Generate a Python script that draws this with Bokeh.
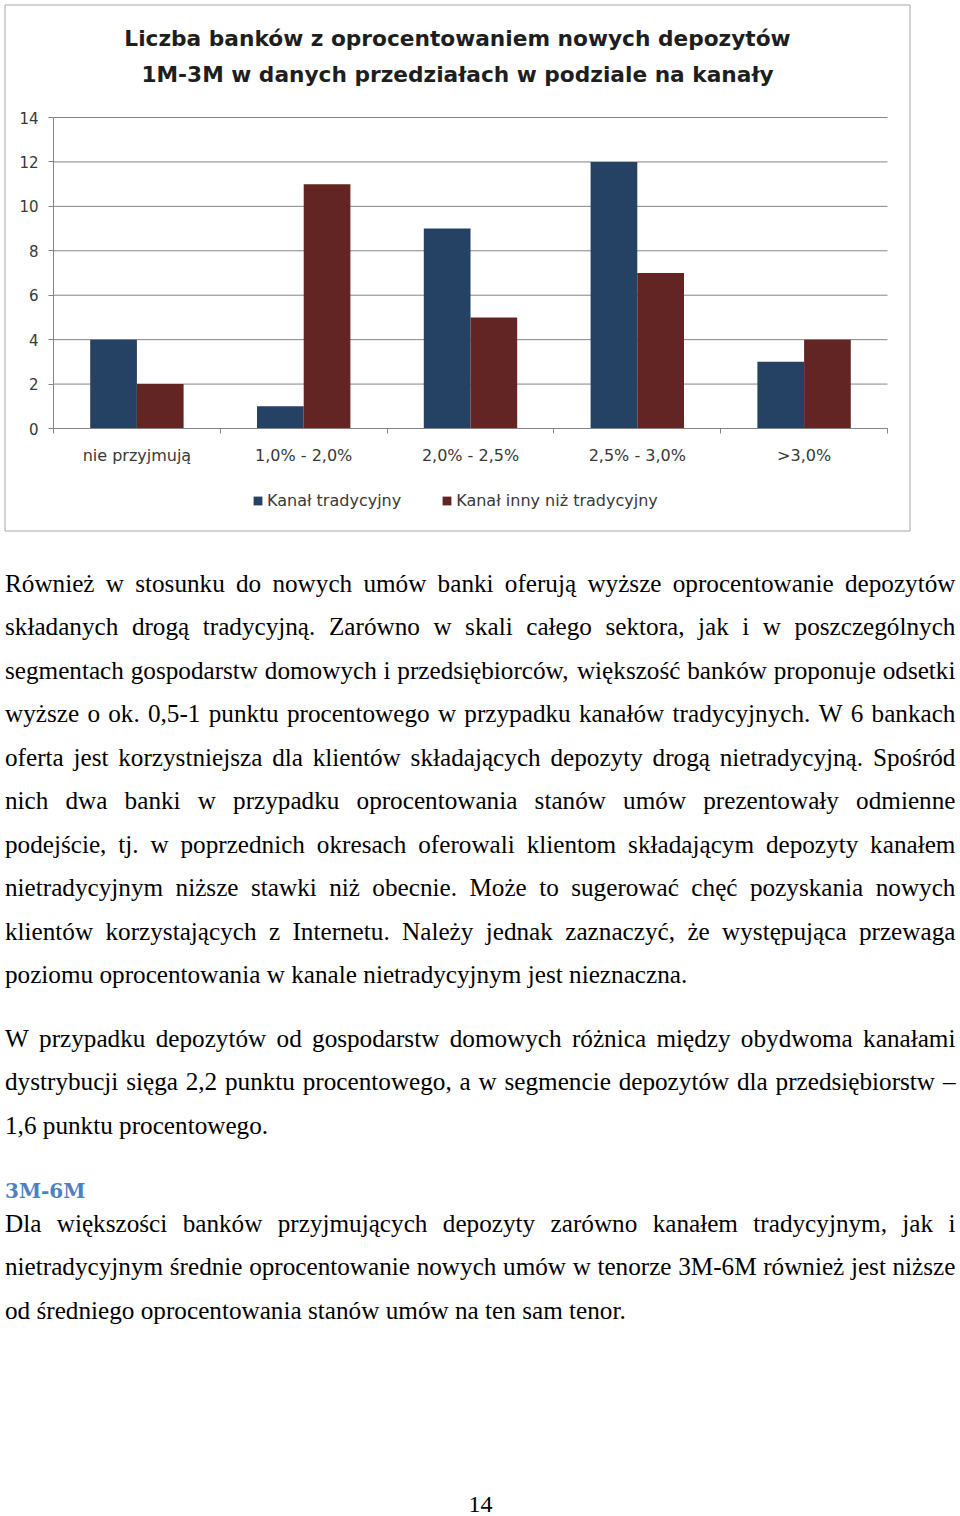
from bokeh.plotting import figure
from bokeh.models import (Range1d, FixedTicker, Legend, LegendItem, LinearAxis,
                          ColumnDataSource)
from bokeh.transform import dodge
from bokeh.embed import file_html
from bokeh.resources import INLINE
from bokeh.core.properties import value

# ---------------- data ----------------
categories = ["nie przyjmują", "1,0% - 2,0%", "2,0% - 2,5%", "2,5% - 3,0%", ">3,0%"]
traditional = [4, 1, 9, 12, 3]
other = [2, 11, 5, 7, 4]
y_ticks = [0, 2, 4, 6, 8, 10, 12, 14]
series_names = ["Kanał tradycyjny", "Kanał inny niż tradycyjny"]
title_lines = ["Liczba banków z oprocentowaniem nowych depozytów",
               "1M-3M w danych przedziałach w podziale na kanały"]

paragraph1 = [
    "Również w stosunku do nowych umów banki oferują wyższe oprocentowanie depozytów",
    "składanych drogą tradycyjną. Zarówno w skali całego sektora, jak i w poszczególnych",
    "segmentach gospodarstw domowych i przedsiębiorców, większość banków proponuje odsetki",
    "wyższe o ok. 0,5-1 punktu procentowego w przypadku kanałów tradycyjnych. W 6 bankach",
    "oferta jest korzystniejsza dla klientów składających depozyty drogą nietradycyjną. Spośród",
    "nich dwa banki w przypadku oprocentowania stanów umów prezentowały odmienne",
    "podejście, tj. w poprzednich okresach oferowali klientom składającym depozyty kanałem",
    "nietradycyjnym niższe stawki niż obecnie. Może to sugerować chęć pozyskania nowych",
    "klientów korzystających z Internetu. Należy jednak zaznaczyć, że występująca przewaga",
    "poziomu oprocentowania w kanale nietradycyjnym jest nieznaczna.",
]
paragraph2 = [
    "W przypadku depozytów od gospodarstw domowych różnica między obydwoma kanałami",
    "dystrybucji sięga 2,2 punktu procentowego, a w segmencie depozytów dla przedsiębiorstw –",
    "1,6 punktu procentowego.",
]
heading = "3M-6M"
paragraph3 = [
    "Dla większości banków przyjmujących depozyty zarówno kanałem tradycyjnym, jak i",
    "nietradycyjnym średnie oprocentowanie nowych umów w tenorze 3M-6M również jest niższe",
    "od średniego oprocentowania stanów umów na ten sam tenor.",
]
page_number = "14"

BLUE = "#254163"
RED = "#632524"
GRID = "#858585"
LABEL = "#383838"

# ---------------- page figure (page pixel coordinates) ----------------
PW, PH = 960, 1516
p = figure(width=PW, height=PH, x_range=Range1d(0, PW), y_range=Range1d(PH, 0),
           output_backend="svg", toolbar_location=None, x_axis_location=None,
           y_axis_location=None, min_border=0, title=None)
p.grid.visible = False
p.outline_line_color = None
p.background_fill_color = "white"
p.border_fill_color = "white"

# chart plot-area placement on the page (pixels)
PL, PR, PT, PB = 53.0, 887.0, 117.0, 428.0
n = len(categories)
ymax = y_ticks[-1]
sx = (PR - PL) / n
sy = (PB - PT) / ymax
p.extra_x_ranges = {"cx": Range1d(-0.5 - PL / sx, n - 0.5 + (PW - PR) / sx)}
p.extra_y_ranges = {"cy": Range1d(-(PH - PB) / sy, PB / sy)}

# chart frame border
p.quad(left=[4.5], right=[909.5], top=[4.5], bottom=[530.5], fill_color=None,
       line_color="#a6a6a6", line_width=1)

# gridlines
p.segment(x0=[-0.5] * len(y_ticks), x1=[n - 0.5] * len(y_ticks), y0=y_ticks, y1=y_ticks,
          line_color=GRID, line_width=1, x_range_name="cx", y_range_name="cy")

idx = list(range(n))
src = ColumnDataSource(dict(x=idx, trad=traditional, oth=other))
r1 = p.vbar(x=dodge("x", -0.14, range=p.extra_x_ranges["cx"]), top="trad", width=0.28, bottom=0,
            source=src, fill_color=BLUE, line_color=None, x_range_name="cx", y_range_name="cy")
r2 = p.vbar(x=dodge("x", 0.14, range=p.extra_x_ranges["cx"]), top="oth", width=0.28, bottom=0,
            source=src, fill_color=RED, line_color=None, x_range_name="cx", y_range_name="cy")

ya = LinearAxis(x_range_name="cx", y_range_name="cy", fixed_location=-0.5, bounds=(0, ymax),
                ticker=FixedTicker(ticks=y_ticks))
ya.axis_line_color = GRID
ya.major_tick_line_color = GRID
ya.major_tick_out = 5
ya.major_tick_in = 0
ya.minor_tick_line_color = None
ya.major_label_standoff = 10
ya.major_label_text_font = "DejaVu Sans"
ya.major_label_text_font_size = "15px"
ya.major_label_text_color = LABEL
p.add_layout(ya, "left")

xa = LinearAxis(x_range_name="cx", y_range_name="cy", fixed_location=0, bounds=(-0.5, n - 0.5),
                ticker=FixedTicker(ticks=idx, minor_ticks=[i - 0.5 for i in range(n + 1)]))
xa.major_label_overrides = {i: c for i, c in zip(idx, categories)}
xa.axis_line_color = GRID
xa.major_tick_out = 0
xa.major_tick_in = 0
xa.major_tick_line_color = None
xa.minor_tick_out = 5
xa.minor_tick_in = 0
xa.minor_tick_line_color = GRID
xa.major_label_standoff = 12
xa.major_label_text_font = "DejaVu Sans"
xa.major_label_text_font_size = "16px"
xa.major_label_text_color = LABEL
p.add_layout(xa, "below")

# chart title
p.text(x=[457, 457], y=[38, 74], text=title_lines, text_font=value("DejaVu Sans"),
       text_font_style="bold", text_font_size=value("21.7px"), text_align="center",
       text_baseline="alphabetic", text_color="#1e1e1e")

legend = Legend(items=[LegendItem(label=series_names[0], renderers=[r1]),
                       LegendItem(label=series_names[1], renderers=[r2])],
                orientation="horizontal", location=(252, 1006),
                glyph_width=11, glyph_height=11, label_standoff=4, spacing=40,
                label_text_font="DejaVu Sans", label_text_font_size="16px",
                label_text_color=LABEL, label_height=20,
                border_line_color=None, background_fill_alpha=0, margin=0, padding=0)
p.add_layout(legend, "center")

# ---------------- body text ----------------
# Times / Liberation Serif advance widths (1/1000 em)
W = {" ": 250, "a": 444, "b": 500, "c": 444, "d": 500, "e": 444, "f": 333, "g": 500, "h": 500,
     "i": 278, "j": 278, "k": 500, "l": 278, "m": 778, "n": 500, "o": 500, "p": 500, "q": 500,
     "r": 333, "s": 389, "t": 278, "u": 500, "v": 500, "w": 722, "x": 500, "y": 500, "z": 444,
     "A": 722, "B": 667, "C": 667, "D": 722, "E": 611, "F": 556, "G": 722, "H": 722, "I": 333,
     "J": 389, "K": 722, "L": 611, "M": 889, "N": 722, "O": 722, "P": 556, "Q": 722, "R": 667,
     "S": 556, "T": 611, "U": 722, "V": 722, "W": 944, "X": 722, "Y": 722, "Z": 611,
     "ą": 444, "ę": 444, "ć": 444, "ł": 278, "ń": 500, "ó": 500, "ś": 389, "ź": 444, "ż": 444,
     "Ż": 611, "Ś": 556, "Ł": 611, ",": 250, ".": 250, "-": 333, "–": 500, ":": 278}
for d in "0123456789":
    W[d] = 500

FS = 25.2
LEFT, RIGHT = 4.5, 955.0
LINE = 43.45


def wwidth(s):
    return sum(W.get(c, 500) for c in s) / 1000.0 * FS


words_x, words_y, words_t = [], [], []


def place(lines, y0):
    for k, line in enumerate(lines):
        ws = line.split(" ")
        last = k == len(lines) - 1
        widths = [wwidth(w) for w in ws]
        if last or len(ws) == 1:
            gap = 0.25 * FS
        else:
            gap = (RIGHT - LEFT - sum(widths)) / (len(ws) - 1)
        x = LEFT
        for w, wd in zip(ws, widths):
            words_x.append(x)
            words_y.append(y0 + k * LINE)
            words_t.append(w)
            x += wd + gap


place(paragraph1, 583.0)
place(paragraph2, 1038.0)
place(paragraph3, 1223.0)

p.text(x=words_x, y=words_y, text=words_t, text_font=value("Liberation Serif"),
       text_font_size=value(f"{FS}px"), text_baseline="alphabetic", text_align="left",
       text_color="black")
p.text(x=[4.5], y=[1190.0], text=[heading], text_font=value("DejaVu Serif"),
       text_font_style="bold", text_font_size=value("20px"), text_baseline="alphabetic",
       text_align="left", text_color="#4F81BD")
p.text(x=[480], y=[1504.0], text=[page_number], text_font=value("Liberation Serif"),
       text_font_size=value("24px"), text_baseline="alphabetic", text_align="center",
       text_color="black")

open("out.html", "w").write(file_html(p, INLINE))
